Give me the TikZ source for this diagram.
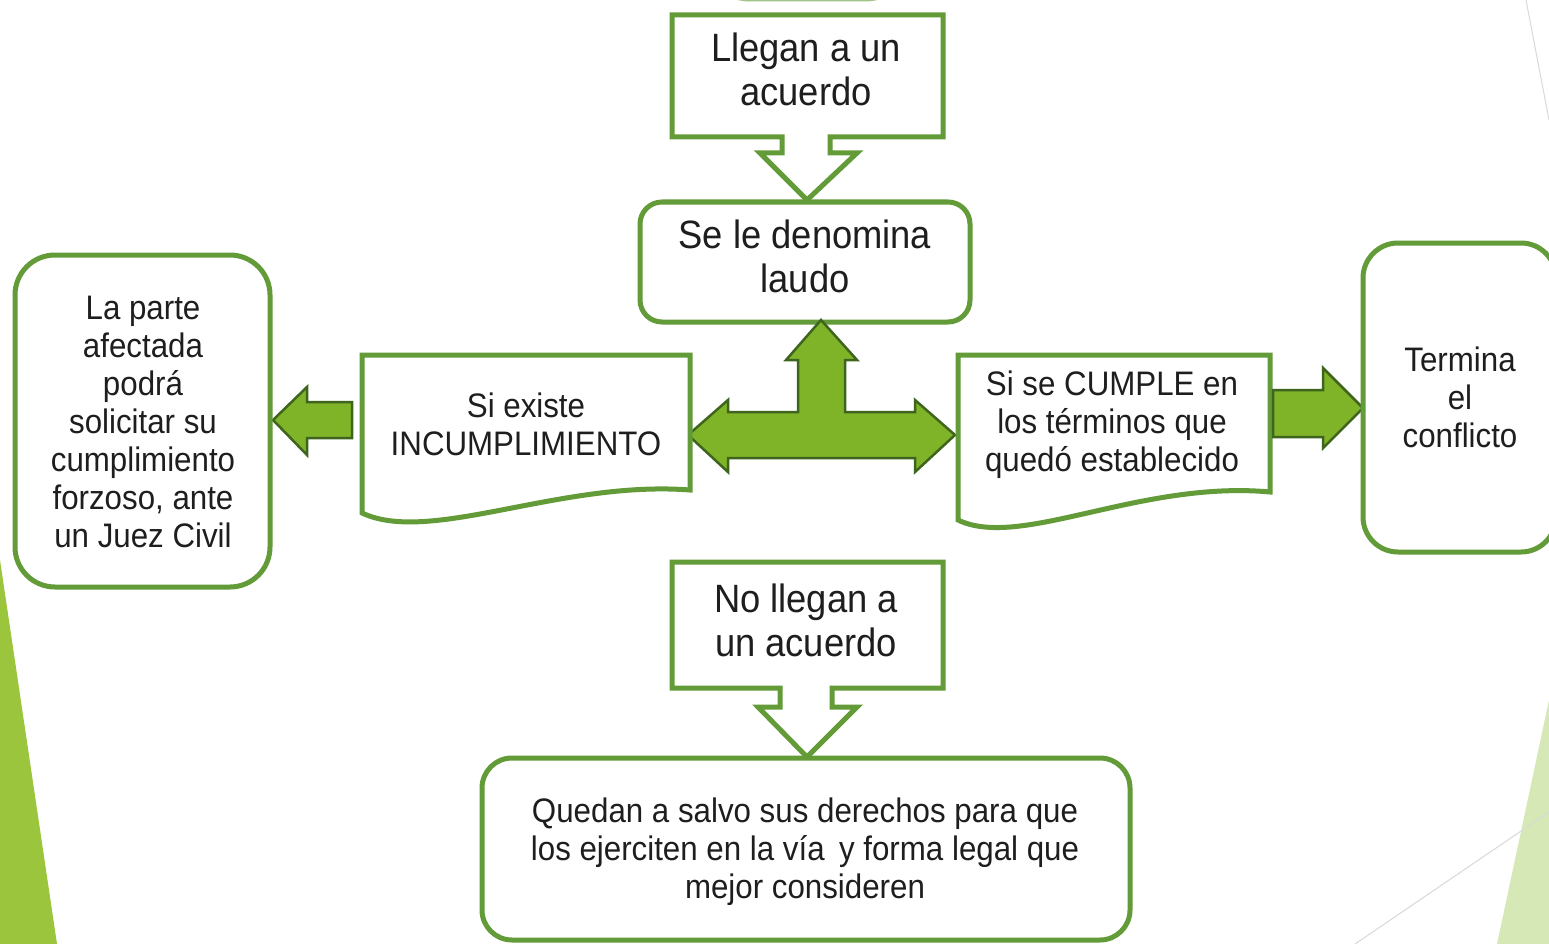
\documentclass[tikz,border=0pt]{standalone}
\usepackage{fontspec}
\setmainfont{Liberation Sans}[FakeStretch=0.92]
\definecolor{boxgreen}{RGB}{98,155,55}
\definecolor{arrowfill}{RGB}{128,180,40}
\definecolor{arrowline}{RGB}{62,100,30}
\definecolor{bgleft}{RGB}{155,197,61}
\definecolor{bgright}{RGB}{214,232,182}
\definecolor{txt}{RGB}{30,30,30}
\tikzset{
  boxline/.style={draw=boxgreen, line width=5pt, fill=white, line join=miter},
  fatarrow/.style={draw=arrowline, line width=2.5pt, fill=arrowfill, line join=miter},
  bigtxt/.style={align=center, text=txt, font=\fontsize{39.5}{44}\selectfont, inner sep=0pt},
  smalltxt/.style={align=center, text=txt, font=\fontsize{34}{38}\selectfont, inner sep=0pt},
}
\begin{document}
\begin{tikzpicture}[x=1pt, y=-1pt]
\useasboundingbox (0,0) rectangle (1549,944);
\fill[white] (0,0) rectangle (1549,944);
% background decorations
\fill[bgleft] (0,560) -- (57,944) -- (0,944) -- cycle;
\fill[bgright] (1549,700) -- (1497,944) -- (1549,944) -- cycle;
\draw[black!15, line width=1pt] (1355,944) -- (1549,812);
\draw[black!15, line width=1pt] (1526,0) -- (1549,120);
\begin{scope}
\clip (0,0) rectangle (1549,944);
\draw[boxgreen!60, line width=4pt, rounded corners=50pt] (700,-80) rectangle (915,-0.5);
\end{scope}
% callout: Llegan a un acuerdo
\draw[boxline] (672,15) -- (943,15) -- (943,137) -- (830,137) -- (830,153) -- (857,153)
  -- (807,200) -- (760,153) -- (782,153) -- (782,137) -- (672,137) -- cycle;
\node[bigtxt] (llegan) at (806,69) {Llegan a un\\acuerdo};
% Se le denomina laudo
\draw[boxline, rounded corners=22pt] (640,202) rectangle (970,322);
\node[bigtxt] (laudo) at (805,256) {Se le denomina\\laudo};
% T arrow
\draw[fatarrow] (688,435) -- (728,400) -- (728,412) -- (798,412) -- (798,360) -- (786,360)
  -- (821,320) -- (857,360) -- (845,360) -- (845,412) -- (915,412) -- (915,400)
  -- (955,435) -- (915,472) -- (915,458) -- (728,458) -- (728,472) -- cycle;
% left document
\draw[boxline] (362,355) -- (690,355) -- (690,490) .. controls (560,480) and (430,545) .. (362,513) -- cycle;
\node[smalltxt] (incum) at (526,424) {Si existe\\INCUMPLIMIENTO};
% right document
\draw[boxline] (958,355) -- (1270,355) -- (1270,492) .. controls (1140,480) and (1020,550) .. (958,520) -- cycle;
\node[smalltxt] (cumple) at (1112,425) {Si se CUMPLE en\\los términos que\\quedó establecido};
% left arrow
\draw[fatarrow] (273,420) -- (307,387) -- (307,402) -- (352,402) -- (352,438) -- (307,438) -- (307,455) -- cycle;
% right arrow
\draw[fatarrow] (1363,408) -- (1323,368) -- (1323,390) -- (1273,390) -- (1273,437) -- (1323,437) -- (1323,448) -- cycle;
% left box
\draw[boxline, rounded corners=40pt] (15,255) rectangle (270,587);
\node[smalltxt] (parte) at (143,422) {La parte\\afectada\\podrá\\solicitar su\\cumplimiento\\forzoso, ante\\un Juez Civil};
% right box
\draw[boxline, rounded corners=35pt] (1363,243) rectangle (1556,552);
\node[smalltxt] (termina) at (1460,397) {Termina\\el\\conflicto};
% callout: No llegan a un acuerdo
\draw[boxline] (672,562) -- (943,562) -- (943,688) -- (832,688) -- (832,707) -- (857,707)
  -- (807,757) -- (758,707) -- (780,707) -- (780,688) -- (672,688) -- cycle;
\node[bigtxt] (nollegan) at (806,620) {No llegan a\\un acuerdo};
% bottom box
\draw[boxline, rounded corners=30pt] (482,758) rectangle (1130,940);
\node[smalltxt] (quedan) at (805,852) {Quedan a salvo sus derechos para que\\los ejerciten en la vía \,y forma legal que\\mejor consideren};
\end{tikzpicture}
\end{document}
